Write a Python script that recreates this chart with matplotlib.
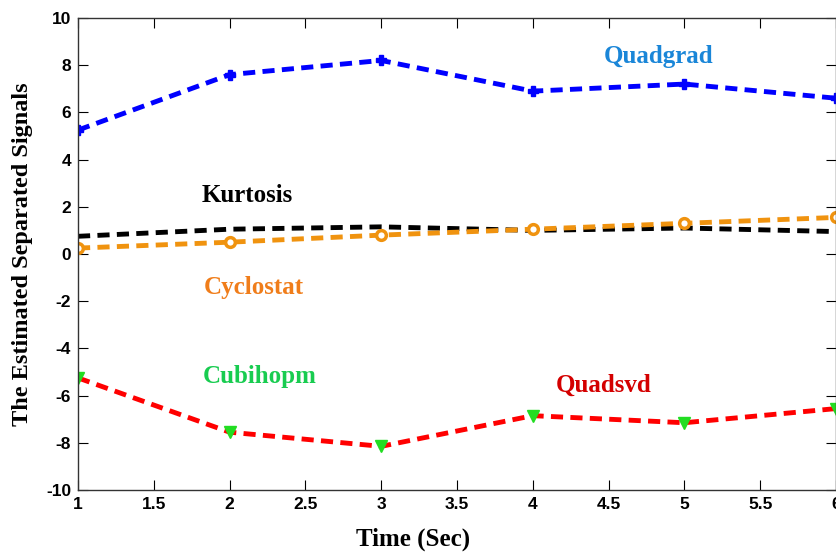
import matplotlib.pyplot as plt

plt.rcParams['axes.unicode_minus'] = False

# Datos
tiempo = [1, 2, 3, 4, 5, 6]
quadgrad = [5.25, 7.6, 8.2, 6.9, 7.2, 6.6]
kurtosis = [0.75, 1.05, 1.15, 1.0, 1.1, 0.95]
cyclostat = [0.25, 0.5, 0.8, 1.05, 1.3, 1.55]
quadsvd = [-5.25, -7.55, -8.15, -6.85, -7.15, -6.55]
cubihopm = [-5.25, -7.55, -8.15, -6.85, -7.15, -6.55]

fig = plt.figure(figsize=(8.37, 5.53), dpi=100)
ax = fig.add_axes([0.0932, 0.1139, 0.9056, 0.8536])

ax.plot(tiempo, quadgrad, '--', color='#0000ff', lw=3.5, marker='P', ms=7, dashes=(2.5, 1.5))
ax.plot(tiempo, kurtosis, '--', color='black', lw=3.5, dashes=(2.5, 1.5))
ax.plot(tiempo, cyclostat, '--', color='#f0930f', lw=3.5, marker='o', ms=7,
        mfc='white', mec='#f0930f', mew=2.5, dashes=(2.5, 1.5))
ax.plot(tiempo, quadsvd, '--', color='#ff0000', lw=3.5, dashes=(2.5, 1.5))
ax.plot(tiempo, cubihopm, 'v', color='#22dd22', ms=8, mec='#22dd22')

# Etiquetas de cada curva
fnt = dict(family='Liberation Serif', weight='bold', fontsize=18, ha='center', va='center')
ax.text(4.83, 8.35, 'Quadgrad', color='#1a86d8', **fnt)
ax.text(2.115, 2.46, 'Kurtosis', color='black', **fnt)
ax.text(2.16, -1.4, 'Cyclostat', color='#f07d1a', **fnt)
ax.text(2.2, -5.21, 'Cubihopm', color='#18cc50', **fnt)
ax.text(4.47, -5.55, 'Quadsvd', color='#d40000', **fnt)

ax.set_xlim(1, 6)
ax.set_ylim(-10, 10)
ax.set_xticks([1, 1.5, 2, 2.5, 3, 3.5, 4, 4.5, 5, 5.5, 6])
ax.set_xticklabels(['1', '1.5', '2', '2.5', '3', '3.5', '4', '4.5', '5', '5.5', '6'])
ax.set_yticks(range(-10, 11, 2))
ax.tick_params(direction='in', top=True, right=True, length=7, labelsize=12.5, pad=5)
for lbl in ax.get_xticklabels() + ax.get_yticklabels():
    lbl.set_fontfamily('Liberation Sans')
    lbl.set_fontweight('bold')
for s in ax.spines.values():
    s.set_linewidth(1.0)
    s.set_color('#333333')

ax.set_xlabel('Time (Sec)', family='Liberation Serif', weight='bold', fontsize=18)
ax.set_ylabel('The Estimated Separated Signals', family='Liberation Serif', weight='bold',
              fontsize=17.5)
ax.xaxis.set_label_coords(0.442, -0.08)
ax.yaxis.set_label_coords(-0.06, 0.5)

fig.savefig('out.png', dpi=100)
